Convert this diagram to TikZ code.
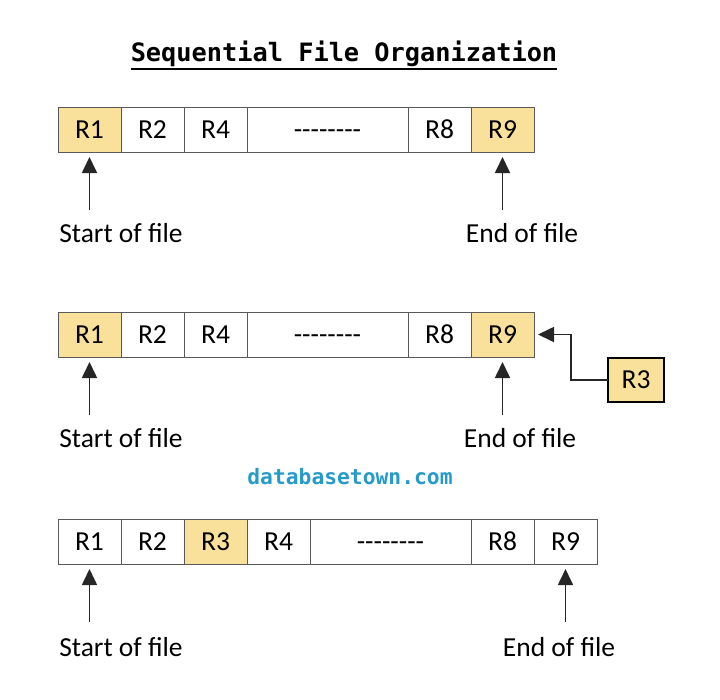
\documentclass[tikz,border=0pt]{standalone}
\usepackage{fontspec}
\setmainfont{Carlito}
\newfontfamily\codefont{DejaVu Sans Mono}
\usetikzlibrary{%
  arrows.meta,%
  positioning
}
\definecolor{recfill}{RGB}{250,225,155}
\definecolor{towncol}{RGB}{38,155,200}

\begin{document}
\begin{tikzpicture}[x=1pt,y=-1pt,
    cell/.style={draw=black!65,line width=0.9pt,minimum width=63pt,
      minimum height=45pt,inner sep=0pt,outer sep=0pt,
      text height=17.5pt,text depth=0pt,
      font=\fontsize{27.5}{32}\selectfont},
    hot/.style={fill=recfill},
    gap/.style={cell,minimum width=161pt},
    ptr/.style={-{Triangle[length=16pt,width=15pt]},line width=1.7pt,black!85},
    lbl/.style={font=\fontsize{27.5}{32}\selectfont,inner sep=0pt,anchor=base}
  ]
  \useasboundingbox (0,0) rectangle (720,699);

  \node [font=\codefont\bfseries\fontsize{25.3}{30}\selectfont,inner sep=0pt]
    (title) at (344,54) {Sequential File Organization};
  \draw [line width=1.5pt]
    ([yshift=-2pt]title.south west) -- ([yshift=-2pt]title.south east);

  % first row
  \node [cell,hot,anchor=west] (a1) at (58,129.5) {R1};
  \node [cell,right=0pt of a1] (a2) {R2};
  \node [cell,right=0pt of a2] (a4) {R4};
  \node [gap,right=0pt of a4] (adots) {-{}-{}-{}-{}-{}-{}-{}-};
  \node [cell,right=0pt of adots] (a8) {R8};
  \node [cell,hot,right=0pt of a8] (a9) {R9};
  \coordinate (sa) at ([yshift=-58pt]a1.south);
  \coordinate (ea) at ([yshift=-58pt]a9.south);
  \draw [ptr] (sa) -- ([yshift=-5pt]a1.south);
  \draw [ptr] (ea) -- ([yshift=-5pt]a9.south);
  \node [lbl] (starta) at (121,242) {Start of file};
  \node [lbl] (enda) at (522,242) {End of file};

  % second row
  \node [cell,hot,anchor=west] (b1) at (58,334.5) {R1};
  \node [cell,right=0pt of b1] (b2) {R2};
  \node [cell,right=0pt of b2] (b4) {R4};
  \node [gap,right=0pt of b4] (bdots) {-{}-{}-{}-{}-{}-{}-{}-};
  \node [cell,right=0pt of bdots] (b8) {R8};
  \node [cell,hot,right=0pt of b8] (b9) {R9};
  \node [cell,hot,draw=black,line width=2.2pt,minimum width=56pt,
    minimum height=44pt] (new3) at (636,380) {R3};
  \draw [ptr] (new3.west) -- ++(-37,0) |- ([xshift=4pt]b9.east);
  \coordinate (sb) at ([yshift=-58pt]b1.south);
  \coordinate (eb) at ([yshift=-58pt]b9.south);
  \draw [ptr] (sb) -- ([yshift=-5pt]b1.south);
  \draw [ptr] (eb) -- ([yshift=-5pt]b9.south);
  \node [lbl] (startb) at (121,447) {Start of file};
  \node [lbl] (endb) at (520,447) {End of file};

  \node [font=\codefont\bfseries\fontsize{21.3}{24}\selectfont,text=towncol]
    (site) at (350,477) {databasetown.com};

  % third row
  \node [cell,anchor=west] (c1) at (58,541.5) {R1};
  \node [cell,right=0pt of c1] (c2) {R2};
  \node [cell,hot,right=0pt of c2] (c3) {R3};
  \node [cell,right=0pt of c3] (c4) {R4};
  \node [gap,right=0pt of c4] (cdots) {-{}-{}-{}-{}-{}-{}-{}-};
  \node [cell,right=0pt of cdots] (c8) {R8};
  \node [cell,right=0pt of c8] (c9) {R9};
  \coordinate (sc) at ([yshift=-58pt]c1.south);
  \coordinate (ec) at ([yshift=-58pt]c9.south);
  \draw [ptr] (sc) -- ([yshift=-5pt]c1.south);
  \draw [ptr] (ec) -- ([yshift=-5pt]c9.south);
  \node [lbl] (startc) at (121,656) {Start of file};
  \node [lbl] (endc) at (559,656) {End of file};
\end{tikzpicture}
\end{document}
